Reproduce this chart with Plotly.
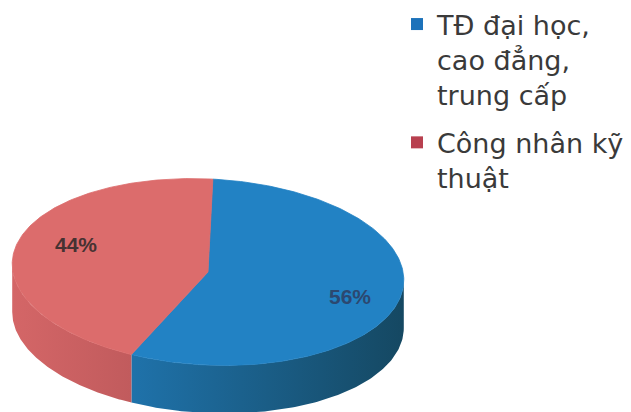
import numpy as np
import plotly.graph_objects as go

# Data
categories = ["TĐ đại học,<br>cao đẳng,<br>trung cấp", "Công nhân kỹ<br>thuật"]
shares = [56, 44]

# Styles
top_colors = ["#2282C4", "#DC6C6C"]
side_scales = [
    [[0, "#1F72AA"], [1, "#154862"]],
    [[0, "#D46667"], [1, "#C15B5D"]],
]
legend_colors = ["#1C72BA", "#B8404F"]
label_colors = ["#2C4870", "#463232"]
label_pos = [(350, 296), (76, 244)]

# Geometry of the tilted disc (plot units = pixels)
CX, CY = 208, 272
RX, RY = 196, 93
TILT = np.radians(3.0)
DEPTH = 48
W, H = 631, 412


def rim(theta_deg):
    t = np.radians(theta_deg)
    x = RX * np.sin(t)
    y = -RY * np.cos(t)
    X = CX + x * np.cos(TILT) - y * np.sin(TILT)
    Y = CY + x * np.sin(TILT) + y * np.cos(TILT)
    return X, Y


# slice boundaries, clockwise from 12 o'clock
total = sum(shares)
bounds = np.concatenate([[0], np.cumsum(shares) / total * 360])

# front (visible) half of the side wall
front_lo = np.degrees(np.arctan2(RX * np.cos(TILT), RY * np.sin(TILT)))
front_hi = front_lo + 180

fig = go.Figure()

# side walls
for i in range(len(shares)):
    lo = max(bounds[i], front_lo)
    hi = min(bounds[i + 1], front_hi)
    if hi <= lo:
        continue
    th = np.linspace(lo, hi, 120)
    xs, ys = rim(th)
    px = np.concatenate([xs, xs[::-1]])
    py = np.concatenate([ys, ys[::-1] + DEPTH])
    fig.add_trace(go.Scatter(
        x=px, y=py, mode="lines", fill="toself",
        line=dict(width=0, color=side_scales[i][1][1]),
        fillgradient=dict(type="horizontal", colorscale=side_scales[i]),
        hoverinfo="skip", showlegend=False,
    ))

# top faces
for i in range(len(shares)):
    th = np.linspace(bounds[i], bounds[i + 1], 200)
    xs, ys = rim(th)
    px = np.concatenate([[CX], xs, [CX]])
    py = np.concatenate([[CY], ys, [CY]])
    fig.add_trace(go.Scatter(
        x=px, y=py, mode="lines", fill="toself",
        fillcolor=top_colors[i], line=dict(width=0.8, color=top_colors[i]),
        hoverinfo="skip", showlegend=False,
    ))

# legend entries, one group each so the group gap spaces them
for i, name in enumerate(categories):
    fig.add_trace(go.Scatter(
        x=[None], y=[None], mode="markers", name=name, legendgroup=f"g{i}",
        marker=dict(symbol="square", size=12, color=legend_colors[i]),
    ))

# percentage labels
for i, v in enumerate(shares):
    fig.add_annotation(
        x=label_pos[i][0], y=label_pos[i][1], text=f"{v}%", showarrow=False,
        font=dict(family="Liberation Sans, Arial", size=21, color=label_colors[i],
                  weight="bold"),
        xanchor="center", yanchor="middle",
    )

fig.update_layout(
    width=W, height=H,
    margin=dict(l=0, r=0, t=0, b=0),
    paper_bgcolor="#FFFFFF", plot_bgcolor="#FFFFFF",
    xaxis=dict(range=[0, W], visible=False, fixedrange=True),
    yaxis=dict(range=[H, 0], visible=False, fixedrange=True),
    showlegend=True,
    legend=dict(
        x=397 / W, y=1.0, xanchor="left", yanchor="top", valign="top",
        font=dict(family="DejaVu Sans, Liberation Sans, Arial", size=27,
                  color="#3A3A3A"),
        bgcolor="rgba(0,0,0,0)", tracegroupgap=10, itemsizing="constant",
        traceorder="grouped",
    ),
)

fig.write_html("out.html")
